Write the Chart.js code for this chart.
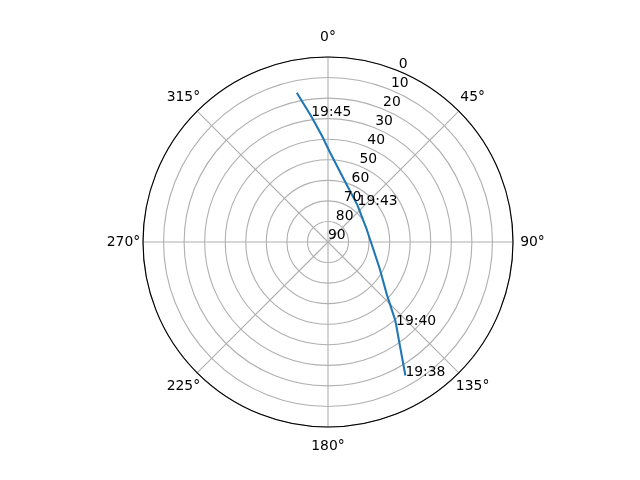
<!DOCTYPE html>
<html>
<head>
<meta charset="utf-8">
<script src="https://cdn.jsdelivr.net/npm/chart.js@4"></script>
<style>
  html, body { margin: 0; padding: 0; background: #fff; }
  canvas { display: block; }
</style>
</head>
<body>
<canvas id="chart" width="640" height="480"></canvas>
<script>
// satellite pass, azimuth clockwise from north, elevation in degrees
const passTimes = ['19:38', '', '19:40', '', '', '', '', '', '19:43', '', '', '', '19:45', ''];
const passAzimuth = [149.9, 145.4, 140.5, 139.2, 131.8, 117.9, 99.4, 72.1, 38.9, 15.7, 0.8, 356.8, 352.4, 348.2];
const passElevation = [14.9, 28.3, 37.9, 40.1, 51.6, 61.4, 67.6, 70.2, 67.1, 59.4, 45.7, 38.4, 28.3, 15.8];

const elevationTicks = [0, 10, 20, 30, 40, 50, 60, 70, 80, 90];
const azimuthLabels = ['0°', '45°', '90°', '135°', '180°', '225°', '270°', '315°'];

const FONT = '13.9px "DejaVu Sans"';
const RLABEL_POS = 22.5;   // where the elevation labels sit
const GRID = '#b0b0b0';

const rad = d => d * Math.PI / 180;

// zenith distance in x/y so the linear scales line up with the radial one
const trackPoints = passAzimuth.map((az, i) => {
    const zd = 90 - passElevation[i];
    return {x: zd * Math.sin(rad(az)), y: zd * Math.cos(rad(az))};
});

const polarDecor = {
    id: 'polarDecor',
    afterDraw (chart) {
        const r = chart.scales.r;
        const ctx = chart.ctx;
        ctx.save();

        ctx.strokeStyle = '#000';
        ctx.lineWidth = 1.11;
        ctx.beginPath();
        ctx.arc(r.xCenter, r.yCenter, r.drawingArea, 0, 2 * Math.PI);
        ctx.stroke();

        ctx.fillStyle = '#000';
        ctx.font = FONT;

        ctx.textAlign = 'center';
        ctx.textBaseline = 'middle';
        azimuthLabels.forEach((label, i) => {
            const p = r.getPointPosition(i, r.drawingArea + 19.5);
            ctx.fillText(label, p.x, p.y);
        });

        ctx.textAlign = 'left';
        ctx.textBaseline = 'bottom';
        elevationTicks.forEach(v => {
            const p = r.getPointPosition(0, r.getDistanceFromCenterForValue(v), rad(RLABEL_POS));
            ctx.fillText(String(v), p.x, p.y);
        });

        const meta = chart.getDatasetMeta(0);
        ctx.textBaseline = 'alphabetic';
        passTimes.forEach((t, i) => {
            if (t) ctx.fillText(t, meta.data[i].x, meta.data[i].y);
        });
        ctx.restore();
    }
};

new Chart(document.getElementById('chart'), {
    type: 'scatter',
    data: {
        labels: azimuthLabels,
        datasets: [{
            data: trackPoints,
            showLine: true,
            borderColor: '#1f77b4',
            borderWidth: 2.08,
            pointRadius: 0,
            pointHoverRadius: 0,
            tension: 0
        }]
    },
    options: {
        responsive: false,
        animation: false,
        layout: {padding: {top: 57, bottom: 53, left: 16, right: 0}},
        plugins: {legend: {display: false}, tooltip: {enabled: false}},
        scales: {
            x: {type: 'linear', display: false, min: -90 * 312 / 185, max: 90 * 312 / 185},
            y: {type: 'linear', display: false, min: -90, max: 90},
            r: {
                type: 'radialLinear',
                min: 0,
                max: 90,
                reverse: true,
                ticks: {display: false, stepSize: 10, reverse: true},
                grid: {circular: true, color: GRID, lineWidth: 1.11},
                angleLines: {color: GRID, lineWidth: 1.11},
                pointLabels: {display: false}
            }
        }
    },
    plugins: [polarDecor]
});
</script>
</body>
</html>
